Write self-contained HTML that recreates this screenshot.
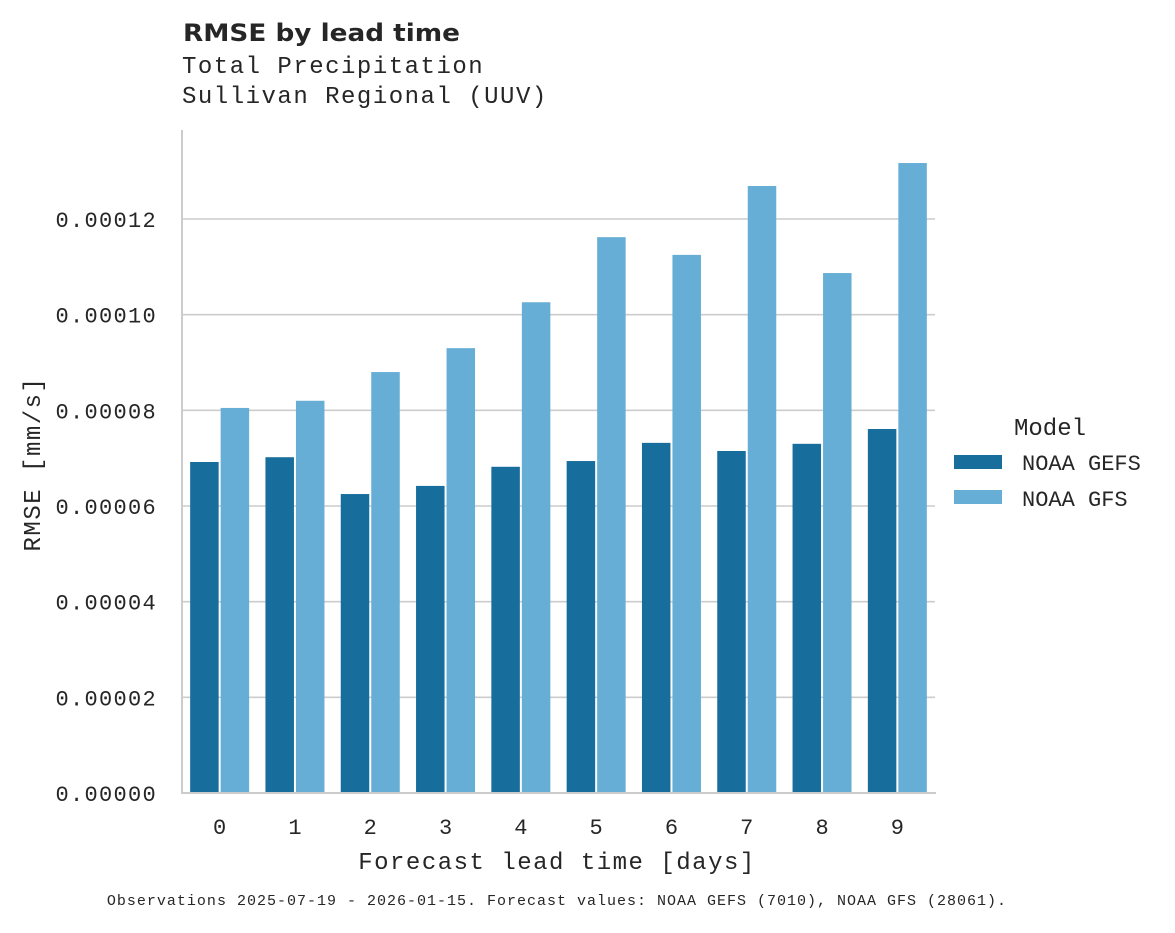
<!DOCTYPE html>
<html><head><meta charset="utf-8"><style>
body{margin:0;background:#fff;}
svg text{font-family:"Liberation Mono",monospace;fill:#262626;}
</style></head><body>
<svg id="chart" width="1175" height="928" xmlns="http://www.w3.org/2000/svg">
<text x="183" y="41" textLength="277" lengthAdjust="spacingAndGlyphs" style="font-family:'DejaVu Sans','Liberation Sans',sans-serif;font-weight:bold;font-size:24px">RMSE by lead time</text>
<text x="182" y="73" font-size="24" letter-spacing="1.5">Total Precipitation</text>
<text x="182" y="103" font-size="24" letter-spacing="1.5">Sullivan Regional (UUV)</text>
<g id="grid"></g>
<g id="bars"></g>
<g id="yticks"></g>
<g id="xticks"></g>
<line x1="182" y1="130" x2="182" y2="794" stroke="#ccc" stroke-width="2"/>
<line x1="181" y1="793" x2="936" y2="793" stroke="#ccc" stroke-width="2"/>
<text transform="translate(40,464) rotate(-90)" text-anchor="middle" font-size="24" letter-spacing="1.5">RMSE [mm/s]</text>
<text x="557" y="869" text-anchor="middle" font-size="24" letter-spacing="1.5">Forecast lead time [days]</text>
<g>
<text x="1014" y="435" font-size="24">Model</text>
<rect x="954" y="455" width="48" height="14" fill="#176d9c"/>
<text x="1022" y="470" font-size="22">NOAA GEFS</text>
<rect x="954" y="490" width="48" height="14" fill="#67aed6"/>
<text x="1022" y="506" font-size="22">NOAA GFS</text>
</g>
<text x="557" y="905" text-anchor="middle" font-size="15" letter-spacing="1">Observations 2025-07-19 - 2026-01-15. Forecast values: NOAA GEFS (7010), NOAA GFS (28061).</text>
</svg>
<script>
const categories=["0","1","2","3","4","5","6","7","8","9"];
const gefsValues=[6.92e-5,7.02e-5,6.25e-5,6.42e-5,6.82e-5,6.94e-5,7.32e-5,7.15e-5,7.30e-5,7.61e-5];
const gfsValues=[8.05e-5,8.2e-5,8.8e-5,9.3e-5,1.026e-4,1.162e-4,1.125e-4,1.269e-4,1.087e-4,1.317e-4];
const yTickValues=[0,0.00002,0.00004,0.00006,0.00008,0.0001,0.00012];
const yTickLabels=["0.00000","0.00002","0.00004","0.00006","0.00008","0.00010","0.00012"];
const NS="http://www.w3.org/2000/svg";
const y0=793,y1=219;
function yScale(v){return y0-(v/0.00012)*(y0-y1);}
const xLeft=182,xRight=935,band=(xRight-xLeft)/categories.length;
function xCenter(i){return xLeft+band*(i+0.5);}
function mk(tag,attrs,parent){const e=document.createElementNS(NS,tag);for(const k in attrs)e.setAttribute(k,attrs[k]);parent.appendChild(e);return e;}
const grid=document.getElementById('grid'),yt=document.getElementById('yticks'),xt=document.getElementById('xticks'),bars=document.getElementById('bars');
yTickValues.forEach((v,i)=>{
 const y=yScale(v);
 if(v>0){const g=mk('line',{x1:182,x2:935,y1:y,y2:y,stroke:'#cccccc','stroke-width':1.6},grid);
 
 }
 const t=mk('text',{x:157,y:y+8,'text-anchor':'end','font-size':22,'letter-spacing':1.3},yt);
 
 
 t.textContent=yTickLabels[i];
});
const bw=28.5;
categories.forEach((c,i)=>{
 const cx=xCenter(i);
 const a=mk('rect',{x:cx-bw-1,y:yScale(gefsValues[i]),width:bw,height:y0-yScale(gefsValues[i]),fill:'#176d9c'},bars);
 
 
 const b=mk('rect',{x:cx+1,y:yScale(gfsValues[i]),width:bw,height:y0-yScale(gfsValues[i]),fill:'#67aed6'},bars);
 
 
 const t=mk('text',{x:cx,y:834,'text-anchor':'middle','font-size':22},xt);
 
 
 t.textContent=c;
});
</script>
</body></html>
